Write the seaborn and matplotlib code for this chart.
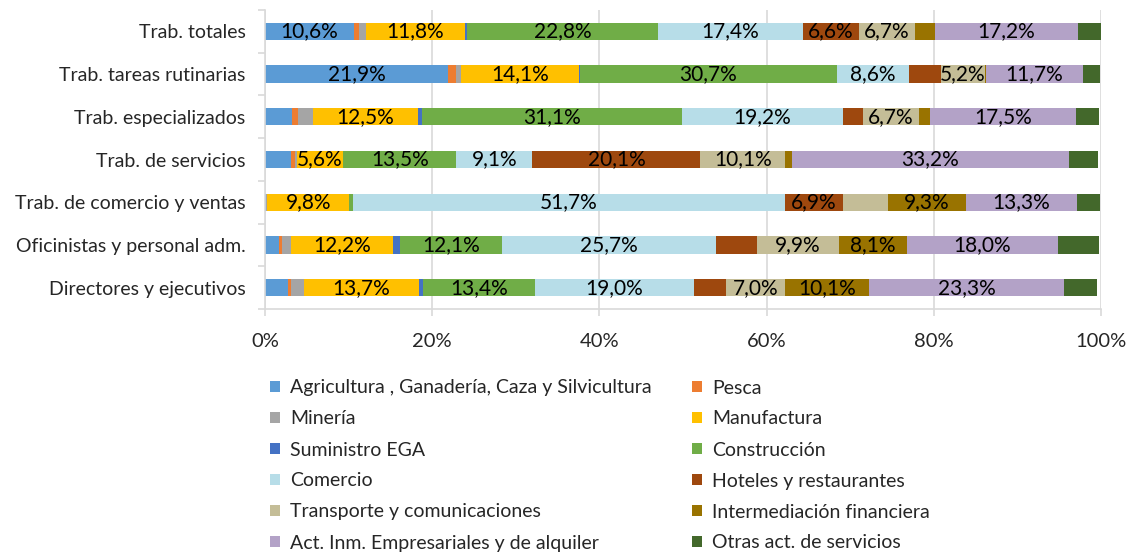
import matplotlib.pyplot as plt
import numpy as np
import pandas as pd
import seaborn as sns
from matplotlib.patches import Patch
from matplotlib.ticker import FuncFormatter, MultipleLocator

# occupational groups, top to bottom
groups = [
    "Trab. totales",
    "Trab. tareas rutinarias",
    "Trab. especializados",
    "Trab. de servicios",
    "Trab. de comercio y ventas",
    "Oficinistas y personal adm.",
    "Directores y ejecutivos",
]

sectors = [
    "Agricultura , Ganadería, Caza y Silvicultura",
    "Pesca",
    "Minería",
    "Manufactura",
    "Suministro EGA",
    "Construcción",
    "Comercio",
    "Hoteles y restaurantes",
    "Transporte y comunicaciones",
    "Intermediación financiera",
    "Act. Inm. Empresariales y de alquiler",
    "Otras act. de servicios",
]

colors = [
    "#5B9BD5", "#ED7D31", "#A5A5A5", "#FFC000", "#4472C4", "#70AD47",
    "#B7DDE8", "#9E480E", "#C4BD97", "#997300", "#B3A2C7", "#43682B",
]

# shares (%) per sector, one value per group (same order as groups)
agricultura = [10.6, 21.9, 3.3, 3.1, 0.1, 1.7, 2.8]
pesca = [0.7, 1.0, 0.7, 0.5, 0.0, 0.4, 0.3]
mineria = [0.8, 0.6, 1.8, 0.2, 0.2, 1.0, 1.6]
manufactura = [11.8, 14.1, 12.5, 5.6, 9.8, 12.2, 13.7]
suministro = [0.3, 0.1, 0.5, 0.0, 0.0, 0.9, 0.5]
construccion = [22.8, 30.7, 31.1, 13.5, 0.4, 12.1, 13.4]
comercio = [17.4, 8.6, 19.2, 9.1, 51.7, 25.7, 19.0]
hoteles = [6.6, 3.9, 2.4, 20.1, 6.9, 4.8, 3.9]
transporte = [6.7, 5.2, 6.7, 10.1, 5.4, 9.9, 7.0]
intermediacion = [2.4, 0.1, 1.3, 0.8, 9.3, 8.1, 10.1]
act_inm = [17.2, 11.7, 17.5, 33.2, 13.3, 18.0, 23.3]
otras = [2.8, 2.0, 2.8, 3.5, 2.8, 5.0, 3.9]

series = [
    agricultura, pesca, mineria, manufactura, suministro, construccion,
    comercio, hoteles, transporte, intermediacion, act_inm, otras,
]

# labels that are not shown in the original chart
hidden_labels = {("Trab. de comercio y ventas", "Transporte y comunicaciones")}

sns.set_theme(style="white")
plt.rcParams["font.family"] = ["Lato", "DejaVu Sans"]

fig, ax = plt.subplots(figsize=(11.32, 5.52), dpi=100)
fig.subplots_adjust(left=0.234, right=0.9726, top=0.982, bottom=0.44)

grid_color = "#D9D9D9"
ax.set_axisbelow(True)
ax.xaxis.grid(True, color=grid_color, linewidth=1.2)

left = np.zeros(len(groups))
for sector, values, color in zip(sectors, series, colors):
    df = pd.DataFrame({"group": groups, "value": values})
    sns.barplot(
        data=df, x="value", y="group", order=groups, color=color,
        saturation=1, width=0.4, left=left, linewidth=0, ax=ax, orient="y",
    )
    for i, (g, v) in enumerate(zip(groups, values)):
        if v >= 5 and sector != "Otras act. de servicios" and (g, sector) not in hidden_labels:
            ax.text(left[i] + v / 2, i, f"{v:.1f}%".replace(".", ","),
                    ha="center", va="center", fontsize=15, color="black")
    left = left + np.array(values)

ax.set_xlim(0, 100)
ax.set_ylim(len(groups) - 0.5, -0.5)
ax.xaxis.set_major_locator(MultipleLocator(20))
ax.xaxis.set_major_formatter(FuncFormatter(lambda x, pos: f"{x:.0f}%"))
ax.set_xlabel("")
ax.set_ylabel("")

ax.yaxis.set_minor_locator(MultipleLocator(1, offset=0.5))
ax.tick_params(axis="y", which="major", length=0, pad=14, labelsize=14)
ax.tick_params(axis="y", which="minor", left=True, length=5, width=1.2, color=grid_color)
ax.tick_params(axis="x", which="major", bottom=True, length=5, width=1.2,
               color=grid_color, pad=12, labelsize=14.5)

for side in ["top", "right"]:
    ax.spines[side].set_visible(False)
for side in ["left", "bottom"]:
    ax.spines[side].set_color(grid_color)
    ax.spines[side].set_linewidth(1.2)

# legend, filled row by row as in the original
handles = [Patch(facecolor=c, edgecolor="none") for c in colors]
order = list(range(0, len(sectors), 2)) + list(range(1, len(sectors), 2))
fig.legend(
    [handles[i] for i in order], [sectors[i] for i in order],
    ncol=2, loc="upper left", bbox_to_anchor=(0.2385, 0.3125),
    frameon=False, fontsize=14, handlelength=0.52, handleheight=0.52,
    handletextpad=0.5, labelspacing=0.72, columnspacing=2.1,
    borderpad=0, borderaxespad=0,
)

fig.savefig("out.png", dpi=100)
